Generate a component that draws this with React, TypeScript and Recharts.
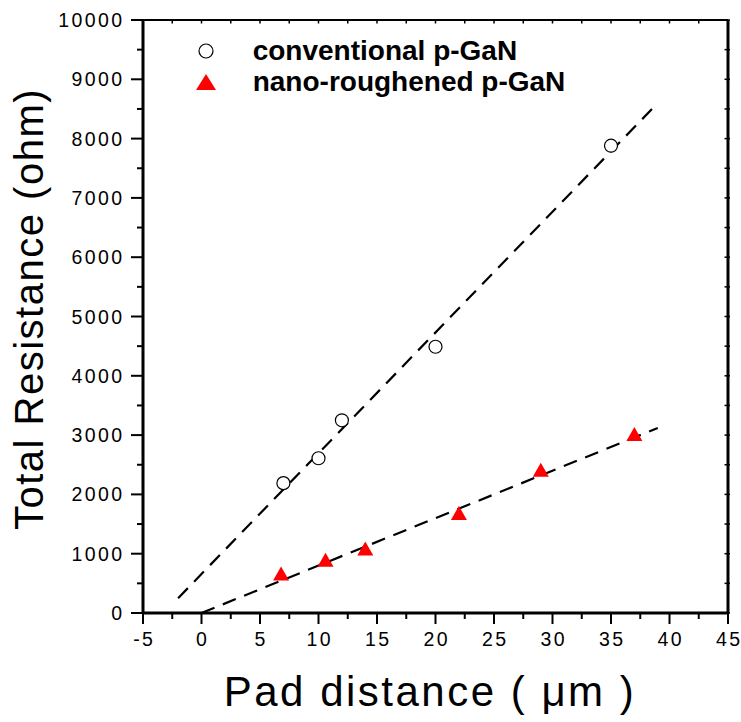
import React from 'react';
import {
  ScatterChart,
  Scatter,
  XAxis,
  YAxis,
  ReferenceLine,
  Legend,
  Customized
} from 'recharts';

// measured values
const convDistance = [7, 10, 12, 20, 35];
const convResistance = [2190, 2610, 3250, 4490, 7880];
const nanoDistance = [6.8, 10.6, 14, 22, 29, 37];
const nanoResistance = [650, 880, 1070, 1670, 2400, 3000];

// dashed linear fits (end points)
const convFitX = [-2, 39];
const convFitY = [250, 8600];
const nanoFitX = [0, 39];
const nanoFitY = [0, 3120];

const xTicks = [-5, -2.5, 0, 2.5, 5, 7.5, 10, 12.5, 15, 17.5, 20, 22.5, 25, 27.5, 30, 32.5, 35, 37.5, 40, 42.5, 45];
const yTicks = [0, 500, 1000, 1500, 2000, 2500, 3000, 3500, 4000, 4500, 5000, 5500, 6000, 6500, 7000, 7500, 8000, 8500, 9000, 9500, 10000];

const convData = convDistance.map((x, i) => ({ x, y: convResistance[i] }));
const nanoData = nanoDistance.map((x, i) => ({ x, y: nanoResistance[i] }));

const FONT = 'Arial, "Liberation Sans", sans-serif';
const TICK_SPACING = 2.4;

const BottomTick = (props: any) => {
  const { x, y, payload } = props;
  const v = payload.value;
  const major = v % 5 === 0;
  return (
    <g>
      <line x1={x} x2={x} y1={y} y2={y + (major ? 11 : 6)} stroke="#000" strokeWidth={2} />
      {major && (
        <text
          x={x + TICK_SPACING / 2}
          y={y + 33}
          textAnchor="middle"
          fontSize={19.5}
          letterSpacing={TICK_SPACING}
          fontFamily={FONT}
          fill="#000"
        >
          {v}
        </text>
      )}
    </g>
  );
};

const LeftTick = (props: any) => {
  const { x, y, payload } = props;
  const v = payload.value;
  const major = v % 1000 === 0;
  return (
    <g>
      <line x1={x} x2={x - (major ? 12 : 6)} y1={y} y2={y} stroke="#000" strokeWidth={2} />
      {major && (
        <text
          x={x - 21 + TICK_SPACING}
          y={y}
          dy="0.36em"
          textAnchor="end"
          fontSize={19.5}
          letterSpacing={TICK_SPACING}
          fontFamily={FONT}
          fill="#000"
        >
          {v}
        </text>
      )}
    </g>
  );
};

const TopTick = (props: any) => {
  const { x, y } = props;
  return <line x1={x} x2={x} y1={y} y2={y + 3.5} stroke="#000" strokeWidth={1.5} />;
};

const RightTick = (props: any) => {
  const { x, y } = props;
  return <line x1={x - 3.5} x2={x + 2} y1={y} y2={y} stroke="#000" strokeWidth={1.5} />;
};

const OpenCircle = (props: any) => {
  const { cx, cy } = props;
  return <circle cx={cx} cy={cy} r={6.5} fill="#fff" stroke="#000" strokeWidth={1.2} />;
};

const RedTriangle = (props: any) => {
  const { cx, cy } = props;
  return (
    <polygon
      points={`${cx},${cy - 8} ${cx - 8},${cy + 6} ${cx + 8},${cy + 6}`}
      fill="#ff0000"
    />
  );
};

const LegendBox = () => (
  <svg width={420} height={70} style={{ display: 'block' }}>
    <circle cx={16} cy={16} r={7} fill="#fff" stroke="#000" strokeWidth={1.2} />
    <text x={62.7} y={25} fontSize={28} fontWeight="bold" fontFamily={FONT} fill="#000">
      conventional p-GaN
    </text>
    <polygon points="16,39 6,55 26,55" fill="#ff0000" />
    <text x={62.7} y={56} fontSize={28} fontWeight="bold" fontFamily={FONT} fill="#000">
      nano-roughened p-GaN
    </text>
  </svg>
);

const AxisTitles = () => (
  <g fontFamily={FONT} fill="#000">
    <text x={430} y={706} textAnchor="middle" fontSize={42} letterSpacing={2.5}>
      Pad distance ( μm )
    </text>
    <text
      x={43}
      y={309}
      transform="rotate(-90 43 309)"
      textAnchor="middle"
      fontSize={40}
      letterSpacing={1.5}
    >
      Total Resistance (ohm)
    </text>
  </g>
);

export default function App() {
  return (
    <div style={{ position: 'absolute', left: 0, top: 0, width: 741, height: 722, background: '#fff' }}>
      <ScatterChart width={741} height={722} margin={{ top: 19, right: 12, bottom: 0, left: 0 }}>
        <XAxis
          xAxisId="bottom"
          dataKey="x"
          type="number"
          domain={[-5, 45]}
          ticks={xTicks}
          interval={0}
          allowDataOverflow
          height={109}
          tickSize={0}
          tickMargin={0}
          tickLine={false}
          axisLine={{ stroke: '#000', strokeWidth: 3 }}
          tick={<BottomTick />}
        />
        <XAxis
          xAxisId="top"
          orientation="top"
          dataKey="x"
          type="number"
          domain={[-5, 45]}
          ticks={xTicks}
          interval={0}
          allowDataOverflow
          height={1}
          tickSize={0}
          tickMargin={0}
          tickLine={false}
          axisLine={{ stroke: '#000', strokeWidth: 2.2 }}
          tick={<TopTick />}
        />
        <YAxis
          yAxisId="left"
          dataKey="y"
          type="number"
          domain={[0, 10000]}
          ticks={yTicks}
          interval={0}
          allowDataOverflow
          width={143}
          tickSize={0}
          tickMargin={0}
          tickLine={false}
          axisLine={{ stroke: '#000', strokeWidth: 3 }}
          tick={<LeftTick />}
        />
        <YAxis
          yAxisId="right"
          orientation="right"
          dataKey="y"
          type="number"
          domain={[0, 10000]}
          ticks={yTicks}
          interval={0}
          allowDataOverflow
          width={1}
          tickSize={0}
          tickMargin={0}
          tickLine={false}
          axisLine={{ stroke: '#000', strokeWidth: 3 }}
          tick={<RightTick />}
        />
        <Scatter
          name="conventional p-GaN"
          data={convData}
          xAxisId="bottom"
          yAxisId="left"
          shape={<OpenCircle />}
          isAnimationActive={false}
        />
        <Scatter
          name="nano-roughened p-GaN"
          data={nanoData}
          xAxisId="bottom"
          yAxisId="left"
          shape={<RedTriangle />}
          isAnimationActive={false}
        />
        <Scatter
          data={convData}
          xAxisId="top"
          yAxisId="right"
          shape={() => null}
          legendType="none"
          isAnimationActive={false}
        />
        <ReferenceLine
          xAxisId="bottom"
          yAxisId="left"
          segment={[
            { x: convFitX[0], y: convFitY[0] },
            { x: convFitX[1], y: convFitY[1] }
          ]}
          stroke="#000"
          strokeWidth={2.2}
          strokeDasharray="14 9"
        />
        <ReferenceLine
          xAxisId="bottom"
          yAxisId="left"
          segment={[
            { x: nanoFitX[0], y: nanoFitY[0] },
            { x: nanoFitX[1], y: nanoFitY[1] }
          ]}
          stroke="#000"
          strokeWidth={2.2}
          strokeDasharray="14 9"
        />
        <Legend
          layout="vertical"
          align="center"
          verticalAlign="middle"
          wrapperStyle={{ top: 35, left: 190, width: 420 }}
          content={<LegendBox />}
        />
        <Customized component={AxisTitles} />
      </ScatterChart>
    </div>
  );
}
